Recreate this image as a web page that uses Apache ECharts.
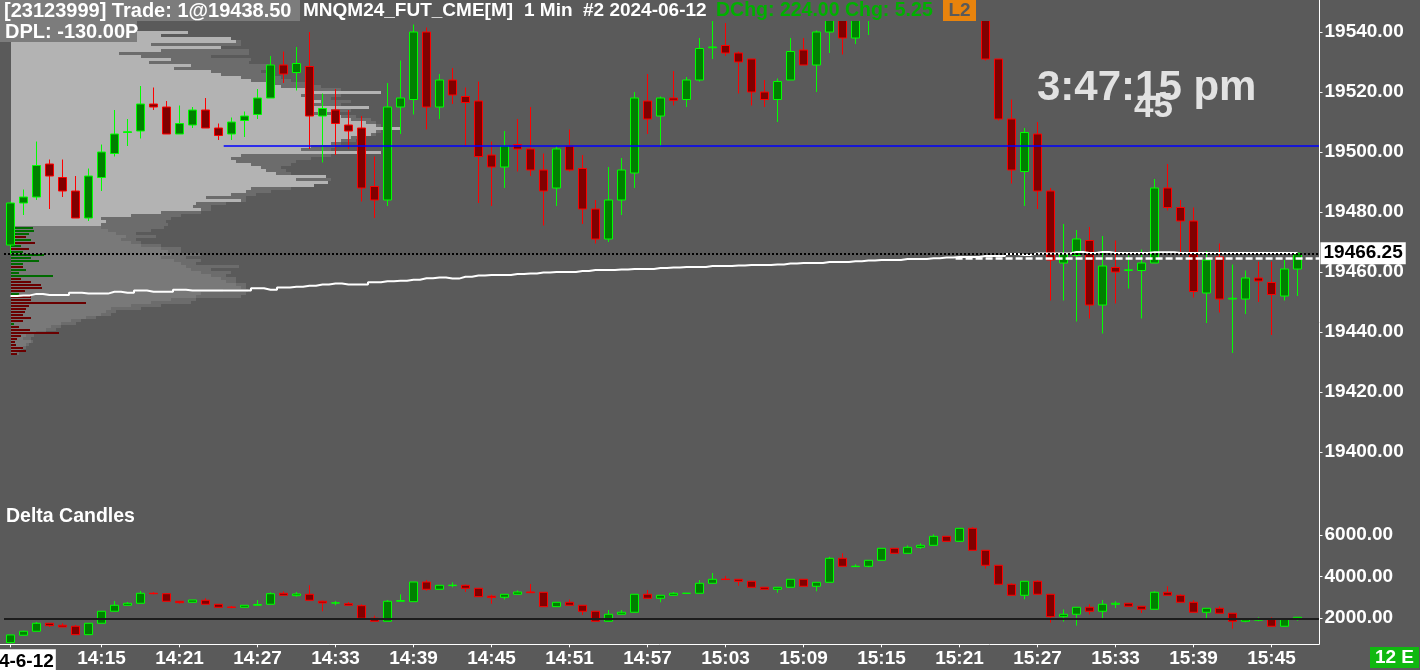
<!DOCTYPE html>
<html><head><meta charset="utf-8">
<script src="https://cdn.jsdelivr.net/npm/echarts@6/dist/echarts.min.js"></script>
<style>html,body{margin:0;padding:0;background:#5a5a5a;overflow:hidden}#c{width:1420px;height:670px}</style>
</head><body><div id="c"></div>
<script>
// ---------- DATA ----------
const times = ["14:08","14:09","14:10","14:11","14:12","14:13","14:14","14:15","14:16","14:17","14:18","14:19","14:20","14:21","14:22","14:23","14:24","14:25","14:26","14:27","14:28","14:29","14:30","14:31","14:32","14:33","14:34","14:35","14:36","14:37","14:38","14:39","14:40","14:41","14:42","14:43","14:44","14:45","14:46","14:47","14:48","14:49","14:50","14:51","14:52","14:53","14:54","14:55","14:56","14:57","14:58","14:59","15:00","15:01","15:02","15:03","15:04","15:05","15:06","15:07","15:08","15:09","15:10","15:11","15:12","15:13","15:14","15:15","15:16","15:17","15:18","15:19","15:20","15:21","15:22","15:23","15:24","15:25","15:26","15:27","15:28","15:29","15:30","15:31","15:32","15:33","15:34","15:35","15:36","15:37","15:38","15:39","15:40","15:41","15:42","15:43","15:44","15:45","15:46","15:47"];
const dateLabel = "2024-6-12";
const xTickIdx = [0,7,13,19,25,31,37,43,49,55,61,67,73,79,85,91,97];

const pOpen  = [19469,19483,19485,19496,19491.5,19487,19478,19491.5,19499.5,19506.5,19507,19516,19515,19506,19509,19514,19508,19506,19510.5,19512.5,19518,19529,19526.5,19528.5,19512,19514,19509,19508,19488.5,19484,19515,19517.5,19540,19515,19524,19518.5,19517,19499,19495,19502.5,19501,19494,19488,19502,19494.5,19481,19471,19484,19493,19517,19512,19518,19517.5,19524,19534.75,19535.5,19533,19531,19520,19517.5,19524,19534,19529,19540,19547,19538,19546,19548,19552,19556,19553,19557,19555,19552,19549,19546,19531,19511,19493.5,19506,19487,19463,19465.5,19470.5,19449,19461.5,19460.5,19460.5,19463,19488,19481.5,19477,19453,19465,19451,19451,19458,19456.5,19452,19461];
const pHigh  = [19483.5,19487.5,19503.5,19497.5,19497.5,19492,19494.5,19502.5,19514,19511,19522,19521.5,19517,19515.5,19515,19518,19509.5,19511.5,19513.5,19521,19532,19533.5,19535,19540,19519.5,19521,19514,19512,19498.5,19523,19530.5,19542.5,19541.5,19526,19528,19521.5,19523.5,19503.5,19507,19511,19515,19499.5,19502,19507.5,19499,19484,19495,19498,19520,19526,19518.5,19527,19525,19538,19544.5,19543,19533.5,19531,19524,19524.5,19538,19538,19540.5,19548,19549,19548,19550,19555,19558,19559,19560,19561,19558,19555,19552,19548,19531,19517.5,19508,19510,19488,19476,19474,19475,19472,19470.5,19465.5,19467.5,19491,19496,19484,19481.5,19467,19469.5,19462.5,19460.5,19463.5,19463.5,19464,19466.5];
const pLow   = [19466,19479,19484,19481,19485,19478,19477,19487,19498.5,19502,19504.5,19514,19506,19506,19508,19508,19504,19504,19505,19511,19518,19523,19520.5,19501,19496.5,19499,19501,19483.5,19478,19482,19506,19512.5,19507.5,19511,19516,19502,19483,19482,19488,19493.5,19492,19475.5,19482,19493.5,19476,19469.5,19470,19479,19488,19506,19502,19515.5,19515,19523.5,19531,19532,19519.5,19515.5,19515,19510,19524,19529,19520,19533,19532.5,19536,19539,19545,19549,19551,19550,19552,19549,19546,19545,19530.5,19510.5,19489.5,19482,19481,19450.5,19450.5,19443.5,19444.5,19439.5,19449.5,19454.5,19444.5,19463,19480.5,19465.5,19451.5,19443,19446.5,19433,19446,19450,19439,19450.5,19452];
const pClose = [19483,19485,19495.5,19492,19487,19478,19492,19500,19506,19506.75,19516,19515,19506,19509.5,19514,19508,19505.5,19510,19512,19518,19529,19526,19529.5,19512,19514.5,19509.5,19507,19488,19484,19515,19518,19540,19515,19524,19519,19516.5,19498.5,19495,19502,19501,19494,19487,19501,19494,19481,19471,19484,19494,19518,19511,19518,19517.25,19524,19534.5,19535,19533,19530,19520,19517.5,19523.5,19533.5,19529,19540,19546,19538,19546,19548,19552,19556,19553,19557,19555,19552,19549,19546.5,19531,19511,19494,19506.5,19487,19464,19466,19471,19449,19462,19460,19460.75,19463,19488,19481.5,19477,19453.5,19464,19451,19451.25,19458,19457,19452.5,19461,19466.25];

const dOpen  = [830,1184,1376,1760,1664,1616,1213,1760,2336,2624,2720,3200,3180,2816,2768,2864,2672,2540,2528,2624,2672,3200,3085,3152,2816,2730,2700,2605,2000,1856,2816,2797,3742,3392,3570,3584,3440,3060,3008,3152,3262,3248,2557,2768,2624,2336,1856,2192,2288,3152,2960,3104,3195,3200,3680,3880,3872,3776,3488,3392,3488,3872,3536,3728,4880,4480,4496,4784,5360,5120,5408,5504,5936,5696,6320,5264,4544,3632,3104,3776,3152,2077,2192,2528,2336,2672,2720,2576,2432,3248,3104,2768,2288,2480,2240,1856,1904,1952,1616,1952];
const dHigh  = [1200,1400,1822,1770,1760,1678,1760,2336,2830,2782,3310,3260,3200,2816,2878,2960,2672,2590,2624,2878,3245,3296,3264,3584,2850,2830,2780,2672,2126,2880,3152,3742,3840,3584,3728,3620,3440,3130,3152,3340,3646,3248,2768,2900,2624,2336,2398,2398,3152,3358,3104,3260,3205,3838,4174,4030,3872,3776,3488,3488,3872,3872,3728,4950,5120,4590,4784,5360,5360,5500,5600,6030,5936,6320,6380,5264,4544,3680,3776,3830,3152,2426,2528,2672,2880,2816,2720,2576,3300,3536,3150,2870,2480,2576,2240,1933,2048,2048,1952,2048];
const dLow   = [800,1180,1376,1582,1582,1213,1213,1760,2336,2624,2720,3150,2816,2700,2768,2672,2528,2480,2528,2624,2672,3104,3040,2864,2336,2624,2624,2000,1856,1856,2816,2797,3328,3392,3488,3264,3037,2700,2900,3152,3230,2557,2557,2624,2158,1856,1856,2192,2288,2960,2768,3104,3190,3200,3680,3860,3565,3488,3392,3229,3488,3536,3296,3728,4496,4480,4450,4784,5120,5120,5330,5504,5696,5696,5264,4381,3632,3104,2912,3152,1789,1840,1645,2182,1965,2490,2576,2250,2432,3104,2768,2288,1981,2240,1501,1810,1856,1616,1616,1880];
const dClose = [1200,1376,1760,1645,1582,1213,1760,2336,2624,2720,3200,3180,2816,2750,2878,2672,2528,2520,2624,2660,3181,3104,3166,2864,2734,2740,2624,2000,1856,2816,2850,3742,3392,3584,3590,3440,3037,3000,3152,3262,3230,2557,2768,2624,2336,1856,2192,2288,3152,2960,3104,3200,3205,3680,3872,3860,3776,3488,3392,3488,3872,3536,3728,4880,4496,4500,4784,5360,5120,5408,5504,5936,5696,6320,5264,4544,3632,3104,3776,3152,2077,2192,2528,2336,2672,2720,2576,2432,3248,3104,2768,2288,2480,2240,1856,1933,1981,1616,1952,2048];

const vwap = [19452.0,19452.2,19452.7,19452.3,19452.3,19453.1,19452.8,19452.8,19453.4,19453.1,19453.8,19453.4,19453.4,19454.1,19453.8,19453.8,19453.8,19453.8,19453.8,19454.6,19454.1,19454.8,19455.1,19455.4,19455.8,19456.2,19455.8,19455.8,19456.6,19456.9,19457.1,19457.4,19457.9,19458.2,19457.8,19458.4,19458.8,19459.0,19459.0,19459.3,19459.5,19459.8,19460.0,19460.0,19460.3,19460.7,19460.7,19460.8,19461.0,19461.0,19461.3,19461.5,19461.7,19461.7,19462.0,19462.0,19462.2,19462.3,19462.3,19462.5,19462.8,19463.0,19463.0,19463.3,19463.3,19463.6,19463.8,19464.0,19464.0,19464.3,19464.3,19464.6,19464.8,19465.0,19465.0,19465.3,19465.3,19466.0,19465.7,19466.2,19466.2,19466.2,19466.7,19466.3,19466.7,19466.3,19466.3,19466.3,19466.6,19466.6,19466.3,19466.3,19466.3,19466.3,19466.3,19466.3,19466.3,19466.3,19466.3,19466.3];

const blueLevel = 19502, blueStartBar = 16.4;
const dashLevel = 19464.5, dashStartBar = 72.7;
const deltaBase = 2000;
const vaLow = 19476;

const profPrice = [19542,19541,19540,19539,19538,19537,19536,19535,19534,19533,19532,19531,19530,19529,19528,19527,19526,19525,19524,19523,19522,19521,19520,19519,19518,19517,19516,19515,19514,19513,19512,19511,19510,19509,19508,19507,19506,19505,19504,19503,19502,19501,19500,19499,19498,19497,19496,19495,19494,19493,19492,19491,19490,19489,19488,19487,19486,19485,19484,19483,19482,19481,19480,19479,19478,19477,19476,19475,19474,19473,19472,19471,19470,19469,19468,19467,19466,19465,19464,19463,19462,19461,19460,19459,19458,19457,19456,19455,19454,19453,19452,19451,19450,19449,19448,19447,19446,19445,19444,19443,19442,19441,19440,19439,19438,19437,19436,19435,19434,19433];
const profInner = [40,90,177,150,220,225,140,210,150,108,130,160,138,180,163,200,210,230,240,260,270,300,370,290,300,310,300,358,320,300,330,340,355,365,390,365,360,340,330,320,300,290,370,230,220,225,240,250,255,265,315,285,317,303,240,235,220,195,230,185,182,190,150,120,90,95,90,
 90,97,105,115,110,120,130,150,157,160,150,163,170,175,180,190,200,210,215,225,230,212,190,185,160,140,120,100,95,90,75,60,50,40,35,25,15,12,20,15,12,10,5];
const profOuter = [40,90,177,150,220,230,230,210,238,238,200,240,238,257,257,250,260,270,280,300,310,330,370,330,320,340,330,358,340,320,345,360,365,370,390,370,365,350,345,330,325,320,370,320,300,285,280,270,275,280,315,320,317,303,280,260,245,235,235,215,200,200,190,170,160,155,157,
 153,140,125,145,125,130,150,170,170,190,175,190,185,228,200,220,215,225,225,235,235,237,235,230,185,180,150,130,105,100,85,70,65,50,45,35,23,20,22,18,15,12,8];
const profDelta = [0,0,0,0,0,0,0,0,0,0,0,0,0,0,0,0,0,0,0,0,0,0,0,0,0,0,0,0,0,0,0,0,0,0,0,0,0,0,0,0,0,0,0,0,0,0,0,0,0,0,0,0,0,0,0,0,0,0,0,0,0,0,0,0,0,0,0,
 22,23,18,-15,20,-24,10,-18,12,33,20,28,12,-12,15,8,42,-10,-20,-30,-31,-14,8,-20,-20,-75,-18,-15,-14,-12,-20,-12,3,-8,-19,-48,-10,-6,-4,-5,-12,-15,-6];

// ---------- CHART ----------
const FONT = '"Liberation Sans", Arial, sans-serif';
const XMIN = -0.5, XMAX = -0.5 + 1315.5 / 13;
const lastPrice = pClose[pClose.length - 1];
const chart = echarts.init(document.getElementById('c'), null, {renderer: 'canvas'});

const candleStyle = {color: '#008000', color0: '#800000', borderColor: '#00ff00', borderColor0: '#ff0000', borderWidth: 1};
const axisLbl = {color: '#ffffff', fontSize: 19, fontWeight: 'bold', fontFamily: FONT, showMinLabel: false, showMaxLabel: false};

const option = {
  backgroundColor: '#5a5a5a',
  animation: false,
  grid: [
    {left: 4, top: 21, width: 1315.5, height: 491, containLabel: false, outerBoundsMode: 'none'},
    {left: 4, top: 505, width: 1315.5, height: 154.9, containLabel: false, outerBoundsMode: 'none'}
  ],
  xAxis: [
    {gridIndex: 0, type: 'value', min: XMIN, max: XMAX, show: false, axisLine: {onZero: false}},
    {gridIndex: 1, type: 'value', min: XMIN, max: XMAX, offset: -15.6,
      axisLine: {show: false, onZero: false}, splitLine: {show: false},
      axisTick: {show: true, length: 3, lineStyle: {color: '#fff'}, customValues: xTickIdx},
      axisLabel: {color: '#ffffff', fontSize: 19, fontWeight: 'bold', fontFamily: FONT, customValues: xTickIdx, margin: 5,
        formatter: v => v === 0 ? '{d|' + dateLabel + '}' : times[v],
        rich: {d: {backgroundColor: '#ffffff', color: '#000000', fontSize: 19, fontWeight: 'bold', fontFamily: FONT, padding: [3, 2, 2, 2]}}}},
    {gridIndex: 0, type: 'value', min: -6.5, max: 1309, show: false, axisLine: {onZero: false}}
  ],
  yAxis: [
    {gridIndex: 0, type: 'value', position: 'right', min: 19380, max: 19540 + 11 / 3, interval: 20,
      splitLine: {show: false}, axisLine: {show: false, onZero: false},
      axisTick: {show: true, length: 3, lineStyle: {color: '#fff'}},
      axisLabel: Object.assign({}, axisLbl, {margin: 5, formatter: v => v.toFixed(2)})},
    {gridIndex: 1, type: 'value', position: 'right', min: 0, max: 7440, interval: 2000,
      splitLine: {show: false}, axisLine: {show: false, onZero: false},
      axisTick: {show: true, length: 3, lineStyle: {color: '#fff'}},
      axisLabel: Object.assign({}, axisLbl, {margin: 5, formatter: v => v.toFixed(2)})}
  ],
  series: [
    { // volume profile
      type: 'custom', xAxisIndex: 2, yAxisIndex: 0, z: 1, silent: true,
      data: profPrice.map((p, i) => [p, profInner[i], profOuter[i], profDelta[i]]),
      encode: {x: [1, 2], y: 0},
      renderItem: function (params, api) {
        const p = api.value(0), inner = api.value(1), outer = api.value(2), d = api.value(3);
        const a = api.coord([0, p + 0.5]), b = api.coord([0, p - 0.5]);
        const x0 = Math.round(a[0]), y0 = Math.round(a[1]), h = Math.round(b[1]) - y0;
        const xi = Math.round(api.coord([inner, p])[0]), xo = Math.round(api.coord([outer, p])[0]);
        const ch = [
          {type: 'rect', shape: {x: x0, y: y0, width: xo - x0, height: h}, style: {fill: '#6c6c6c'}},
          {type: 'rect', shape: {x: x0, y: y0, width: xi - x0, height: h}, style: {fill: p >= vaLow ? '#b3b3b3' : '#797979'}}
        ];
        if (d) {
          const xd = Math.round(api.coord([Math.abs(d), p])[0]);
          ch.push({type: 'rect', shape: {x: x0, y: y0 + 1, width: xd - x0, height: 2}, style: {fill: d > 0 ? '#006a00' : '#6a0000'}});
        }
        return {type: 'group', children: ch};
      }
    },
    { // price candles
      type: 'candlestick', xAxisIndex: 0, yAxisIndex: 0, z: 2, barWidth: 8, clip: true,
      data: pOpen.map((o, i) => [i, o, pClose[i], pLow[i], pHigh[i]]),
      encode: {x: 0, y: [1, 2, 3, 4]},
      itemStyle: candleStyle
    },
    { // VWAP + reference lines
      type: 'line', xAxisIndex: 0, yAxisIndex: 0, z: 4, step: 'middle', showSymbol: false, silent: true,
      data: vwap.map((v, i) => [i, v]),
      lineStyle: {color: '#ffffff', width: 2},
      markLine: {
        silent: true, symbol: ['none', 'none'], animation: false,
        data: [
          [{coord: [blueStartBar, blueLevel], lineStyle: {color: '#0000ff', width: 1.5, type: 'solid'}, label: {show: false}}, {coord: [XMAX, blueLevel]}],
          [{coord: [dashStartBar, dashLevel], lineStyle: {color: '#ffffff', width: 2.5, type: [7, 3]}, label: {show: false}}, {coord: [XMAX, dashLevel]}],
          {yAxis: lastPrice, lineStyle: {color: '#000000', width: 2, type: [2, 2]},
            label: {show: true, position: 'end', distance: 1, formatter: p => Number(p.value).toFixed(2),
              color: '#000000', backgroundColor: '#ffffff', fontSize: 19, fontWeight: 'bold', fontFamily: FONT, padding: [2, 3, 1, 3]}}
        ]
      }
    },
    { // delta candles
      type: 'candlestick', xAxisIndex: 1, yAxisIndex: 1, z: 2, barWidth: 8,
      data: dOpen.map((o, i) => [i, o, dClose[i], dLow[i], dHigh[i]]),
      encode: {x: 0, y: [1, 2, 3, 4]},
      itemStyle: candleStyle,
      markLine: {silent: true, symbol: ['none', 'none'], animation: false, label: {show: false},
        data: [{yAxis: deltaBase, lineStyle: {color: '#1c1c1c', width: 2, type: 'solid'}}]}
    }
  ],
  graphic: [
    {type: 'rect', z: 50, shape: {x: 0, y: 0, width: 1319, height: 21}, style: {fill: '#5a5a5a'}},
    {type: 'rect', z: 50, shape: {x: 1320, y: 655, width: 10, height: 10}, style: {fill: '#5a5a5a'}},
    {type: 'line', z: 60, shape: {x1: 1319.5, y1: 0, x2: 1319.5, y2: 644.5}, style: {stroke: '#ffffff', lineWidth: 1}},
    {type: 'line', z: 60, shape: {x1: 0, y1: 644.5, x2: 1319.5, y2: 644.5}, style: {stroke: '#ffffff', lineWidth: 1}},
    {type: 'rect', z: 55, shape: {x: 0, y: 0, width: 300, height: 21}, style: {fill: '#7c7c7c'}},
    {type: 'text', z: 56, style: {text: '[23123999] Trade: 1@19438.50', x: 4, y: 11, fill: '#ffffff', font: 'bold 20px ' + FONT, textVerticalAlign: 'middle'}},
    {type: 'text', z: 56, style: {text: 'MNQM24_FUT_CME[M]', x: 303, y: 11, fill: '#ffffff', font: 'bold 19px ' + FONT, textVerticalAlign: 'middle'}},
    {type: 'text', z: 56, style: {text: '1 Min', x: 524, y: 11, fill: '#ffffff', font: 'bold 19px ' + FONT, textVerticalAlign: 'middle'}},
    {type: 'text', z: 56, style: {text: '#2 2024-06-12', x: 583, y: 11, fill: '#ffffff', font: 'bold 19px ' + FONT, textVerticalAlign: 'middle'}},
    {type: 'text', z: 56, style: {text: 'DChg: 224.00 Chg: 5.25', x: 716, y: 11, fill: '#00b000', font: 'bold 19.5px ' + FONT, textVerticalAlign: 'middle'}},
    {type: 'rect', z: 55, shape: {x: 943, y: 0, width: 33, height: 21}, style: {fill: '#e8830c'}},
    {type: 'text', z: 56, style: {text: 'L2', x: 959.5, y: 11, fill: '#5a5a5a', font: 'bold 19px ' + FONT, textAlign: 'center', textVerticalAlign: 'middle'}},
    {type: 'rect', z: 55, shape: {x: 0, y: 21, width: 137, height: 21}, style: {fill: '#7c7c7c'}},
    {type: 'text', z: 56, style: {text: 'DPL: -130.00P', x: 5, y: 32, fill: '#ffffff', font: 'bold 20px ' + FONT, textVerticalAlign: 'middle'}},
    {type: 'text', z: 56, style: {text: '3:47:15 pm', x: 1037, y: 88, fill: '#e2e2e2', font: 'bold 42px ' + FONT, textVerticalAlign: 'middle'}},
    {type: 'text', z: 57, style: {text: '45', x: 1134, y: 107, fill: '#e2e2e2', font: 'bold 35px ' + FONT, textVerticalAlign: 'middle'}},
    {type: 'text', z: 56, style: {text: 'Delta Candles', x: 6, y: 517, fill: '#ffffff', font: 'bold 19.5px ' + FONT, textVerticalAlign: 'middle'}},
    {type: 'rect', z: 55, shape: {x: 1370, y: 647, width: 49, height: 21}, style: {fill: '#10b810'}},
    {type: 'text', z: 56, style: {text: '12 E', x: 1394.5, y: 658, fill: '#ffffff', font: 'bold 19px ' + FONT, textAlign: 'center', textVerticalAlign: 'middle'}}
  ]
};
chart.setOption(option);
</script>
</body></html>
